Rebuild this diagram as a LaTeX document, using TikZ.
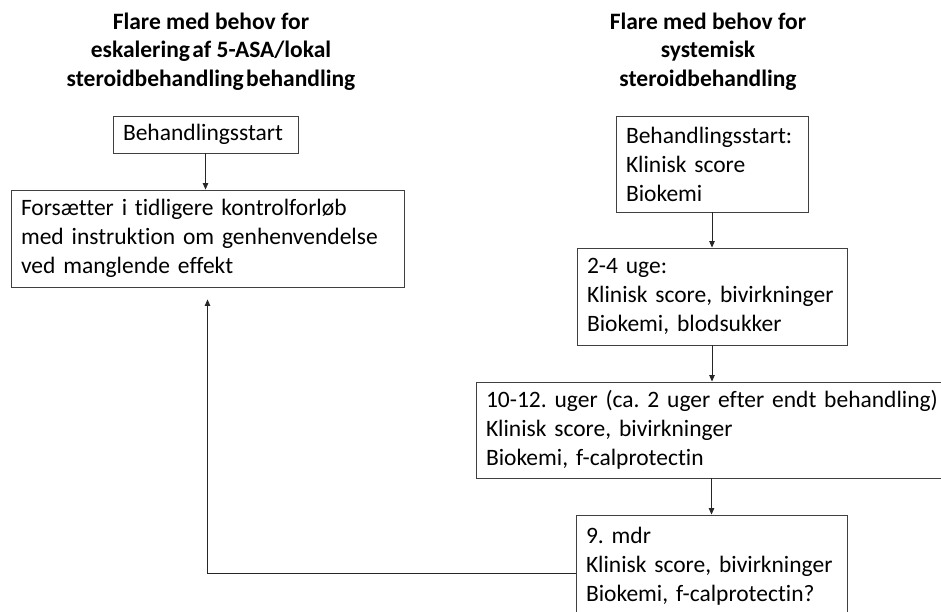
\documentclass[tikz,border=0pt]{standalone}
\usepackage{fontspec}
\setmainfont{Carlito}[Ligatures=NoCommon]
\usetikzlibrary{arrows.meta}
\frenchspacing
\begin{document}
\begin{tikzpicture}[x=1pt,y=-1pt]
		\tikzstyle{box}=[draw=black!75,line width=0.9pt,align=left,inner xsep=10pt,inner ysep=0pt,font=\fontsize{23.5}{29}\selectfont]
		\tikzstyle{title}=[align=center,font=\fontsize{23.5}{28.5}\selectfont\bfseries]
		\tikzstyle{pil}=[draw=black!85,line width=0.8pt,-{Triangle[length=6.5pt,width=5.5pt]}]
		\useasboundingbox (0,0) rectangle (941,612);
		\node[title] (t_l) at (211,51.5) {Flare med behov for\\eskalering\hspace{-3pt} af 5-ASA/lokal\\steroidbehandling\hspace{-3pt} behandling};
		\node[title] (t_r) at (708,51.5) {Flare med behov for\\systemisk\\steroidbehandling};
		\node[box,text width=165pt,minimum height=37pt] (b_l1) at (205.5,134.5) {Behandlingsstart};
		\node[box,text width=373pt,minimum height=97pt] (b_l2) at (207.5,238.5) {Forsætter i tidligere kontrolforløb\\med instruktion om genhenvendelse\\ved manglende effekt};
		\node[box,text width=172pt,minimum height=96pt] (b_r1) at (712,164) {Behandlingsstart:\\Klinisk score\\Biokemi};
		\node[box,text width=250pt,minimum height=97pt] (b_r2) at (712,296.5) {2-4 uge:\\Klinisk score, bivirkninger\\Biokemi, blodsukker};
		\node[box,text width=470pt,minimum height=96pt] (b_r3) at (721,430) {10-12. uger (ca. 2 uger efter endt behandling)\\Klinisk score, bivirkninger\\Biokemi, f-calprotectin};
		\node[box,text width=251pt,minimum height=102pt] (b_r4) at (711.5,566) {9. mdr\\Klinisk score, bivirkninger\\Biokemi, f-calprotectin?};
		\draw[pil] (b_l1.south) -- (b_l1.south |- b_l2.north);
		\draw[pil] (b_r1) -- (b_r2);
		\draw[pil] (b_r2) -- (b_r2 |- b_r3.north);
		\draw[pil] (b_r4 |- b_r3.south) -- (b_r4);
		\draw[pil,shorten >=12pt] ([yshift=-7pt]b_r4.west) -| (b_l2.south);
	\end{tikzpicture}
\end{document}
